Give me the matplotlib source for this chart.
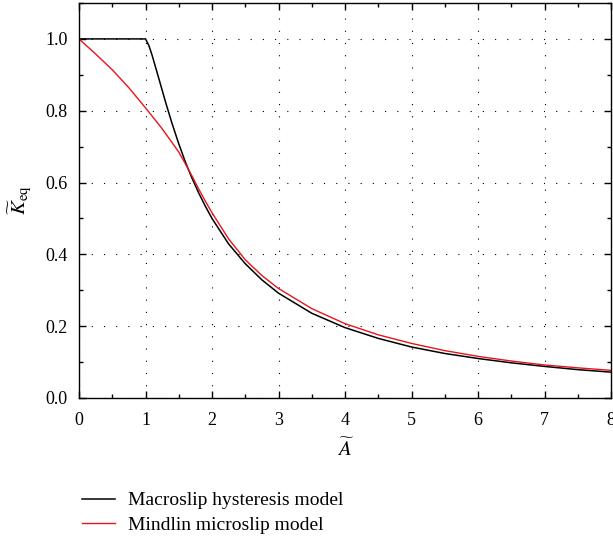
import matplotlib
matplotlib.use("Agg")
import matplotlib.pyplot as plt
from matplotlib.ticker import MultipleLocator, FormatStrFormatter

plt.rcParams['font.family'] = ['Liberation Serif', 'DejaVu Serif']
plt.rcParams['mathtext.fontset'] = 'stix'

# 값은 그림에서 읽음
a_macro = [0.0, 0.5, 1.0, 1.05, 1.1, 1.2, 1.3, 1.4, 1.5, 1.6, 1.7, 1.8, 1.9, 2.0,
           2.25, 2.5, 2.75, 3.0, 3.5, 4.0, 4.5, 5.0, 5.5, 6.0, 6.5, 7.0, 7.5, 8.0]
k_macro = [1.0, 1.0, 1.0, 0.982, 0.954, 0.890, 0.825, 0.764, 0.708, 0.657, 0.612,
           0.571, 0.534, 0.500, 0.429, 0.374, 0.329, 0.292, 0.236, 0.196, 0.166,
           0.142, 0.124, 0.110, 0.098, 0.088, 0.079, 0.072]

a_mindlin = [0.0, 0.25, 0.5, 0.75, 1.0, 1.25, 1.5, 1.6, 1.7, 1.8, 1.9, 2.0, 2.25,
             2.5, 2.75, 3.0, 3.5, 4.0, 4.5, 5.0, 5.5, 6.0, 6.5, 7.0, 7.5, 8.0]
k_mindlin = [1.0, 0.958, 0.914, 0.864, 0.808, 0.750, 0.685, 0.652, 0.618, 0.582,
             0.548, 0.516, 0.443, 0.385, 0.341, 0.305, 0.249, 0.207, 0.176, 0.152,
             0.132, 0.116, 0.103, 0.092, 0.084, 0.077]

fig = plt.figure(figsize=(6.13, 5.38), dpi=100)
ax = fig.add_axes([79/613, 1 - 398/538, 532/613, 395/538])

ax.plot(a_macro, k_macro, color='black', lw=1.1, label='Macroslip hysteresis model')
ax.plot(a_mindlin, k_mindlin, color='#e8141c', lw=1.0, label='Mindlin microslip model')

ax.set_xlim(0, 8)
ax.set_ylim(0, 1.1)
ax.xaxis.set_major_locator(MultipleLocator(1))
ax.xaxis.set_minor_locator(MultipleLocator(0.5))
ax.yaxis.set_major_locator(MultipleLocator(0.2))
ax.yaxis.set_minor_locator(MultipleLocator(0.1))
ax.yaxis.set_major_formatter(FormatStrFormatter('%.1f'))

ax.tick_params(which='both', direction='in', top=True, right=True, labelsize=13)
ax.tick_params(which='major', length=5, width=1.0)
ax.tick_params(which='minor', length=3, width=1.0)
ax.tick_params(axis='x', which='major', pad=10)
ax.tick_params(axis='y', which='major', pad=8)
for s in ax.spines.values():
    s.set_linewidth(1.0)

ax.grid(True, which='major', color='black', lw=0.8, linestyle=(0, (1, 10)))

ax.set_xlabel(r'$\widetilde{A}$', fontsize=15, labelpad=7)
ax.set_ylabel(r'$\widetilde{K}_{\mathrm{eq}}$', fontsize=15, labelpad=9)

fig.legend(loc='upper left', bbox_to_anchor=(74/613, 1 - 484/538), frameon=False,
           fontsize=14, handlelength=1.7, handletextpad=0.7, labelspacing=0.35,
           borderaxespad=0)

fig.savefig('out.png', dpi=100)
